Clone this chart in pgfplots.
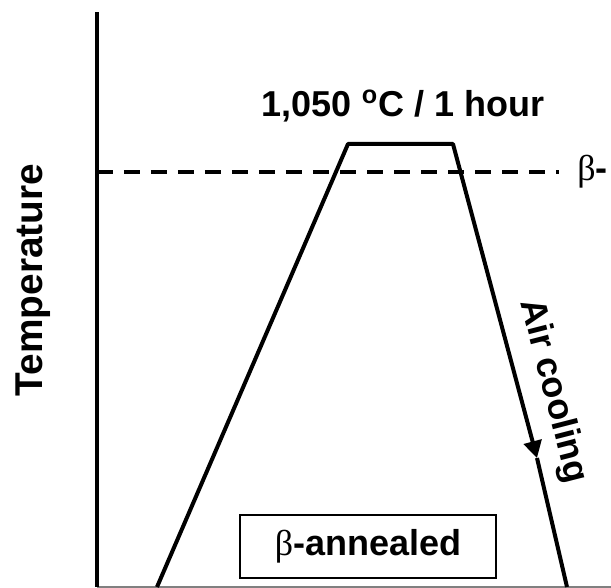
\documentclass[border=0pt]{standalone}
\usepackage{fontspec}
\setmainfont{Liberation Sans}
\newfontfamily\betafont{Liberation Serif}
\usepackage{pgfplots}
\pgfplotsset{compat=1.18}
\usetikzlibrary{arrows.meta}

\begin{document}
\begin{tikzpicture}
\begin{axis}[
  scale only axis, width=257pt, height=287.5pt,
  xmin=97, xmax=611, ymin=1, ymax=576,
  axis lines*=left,
  xtick=\empty, ytick=\empty,
  x axis line style={gray, line width=0.6pt},
  y axis line style={black, line width=2pt},
  clip=false,
  font=\fontsize{18}{21}\selectfont\bfseries,
  ylabel={Temperature},
  every axis y label/.style={at={(rel axis cs:-0.1245,0.534)}, rotate=90, anchor=center, font=\fontsize{19.4}{22}\selectfont\bfseries},
]
\coordinate (BL) at (axis cs:0,0);
\coordinate (TR) at (axis cs:611,588);
% beta-transus line
\addplot[black, line width=2pt, dash pattern=on 8pt off 5.5pt] coordinates {(97,416) (559,416)};
% heating, holding, cooling
\addplot[black, line width=2pt, line join=round, -{Triangle[length=8.5pt,width=9pt]}] coordinates {(157,1) (348,444) (453,444) (537,130)};
\addplot[black, line width=2pt] coordinates {(537,130) (567,1)};
\node at (axis cs:403,482) {1,050 \textsuperscript{o}C / 1 hour};
\node[rotate=-75.6] at (axis cs:553,197) {Air cooling};
\node[anchor=west, inner sep=0pt] at (axis cs:577,416) {{\betafont\mdseries β}-};
\node[draw, line width=1pt, minimum width=128pt, minimum height=31.5pt, inner sep=0pt] at (axis cs:368,41.5) {{\betafont\mdseries β}-annealed};
\end{axis}
\pgfresetboundingbox
\path[use as bounding box] (BL) rectangle (TR);
\end{tikzpicture}
\end{document}
